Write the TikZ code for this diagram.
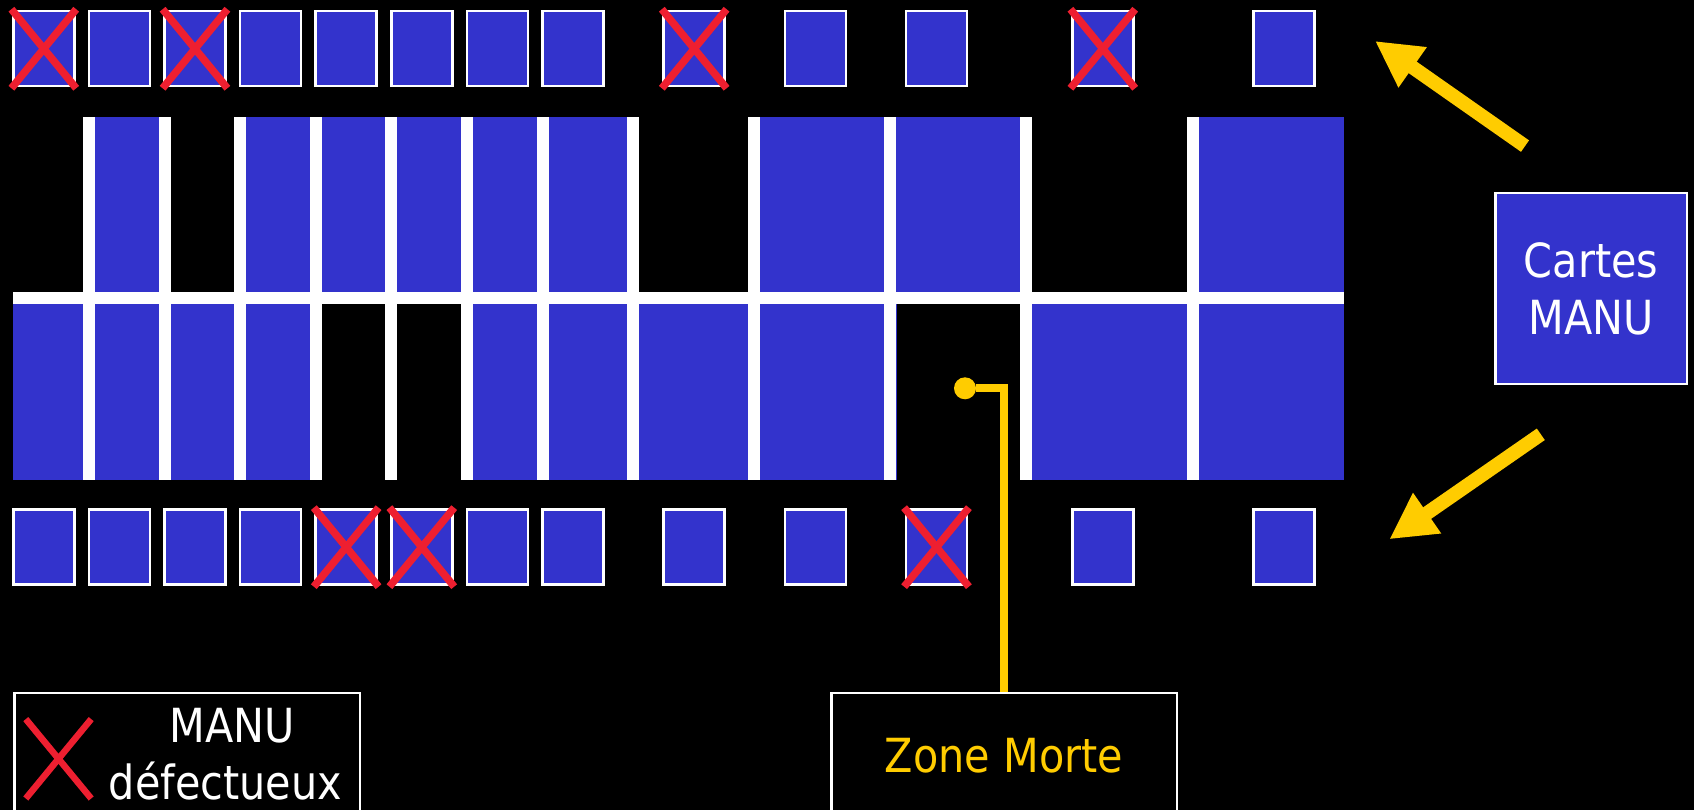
\documentclass[tikz,border=0pt]{standalone}
\usepackage{fontspec}
\setmainfont{DejaVu Sans}[FakeStretch=0.88]
\usetikzlibrary{arrows.meta}
\definecolor{cellblue}{HTML}{3333CC}
\definecolor{xred}{HTML}{EE1F30}
\definecolor{ygold}{HTML}{FFCC00}
\begin{document}
\begin{tikzpicture}[x=1pt,y=-1pt,
  cell/.style={rectangle, draw=white, line width=2.5pt, fill=cellblue, minimum width=61pt, minimum height=75pt, inner sep=0pt},
  cross/.style={draw=xred, line width=7.5pt, shorten <=-1pt, shorten >=-1pt},
  legcross/.style={draw=xred, line width=6.5pt},
  board/.style={fill=cellblue},
  bar/.style={fill=white},
  hole/.style={fill=black},
  frame/.style={rectangle, draw=white, line width=2.5pt, fill=black, inner sep=0pt},
  txt/.style={text=white, font=\fontsize{47}{57}\selectfont, inner sep=0pt},
  yarrow/.style={draw=ygold, line width=14pt, -{Triangle[length=46pt,width=46pt]}},
  yline/.style={draw=ygold, line width=8pt},
  ydot/.style={circle, fill=ygold, minimum size=22pt, inner sep=0pt}
]
\fill[black] (0,0) rectangle (1694,810);
\useasboundingbox (0,0) rectangle (1694,810);

% main board
\fill[board] (12.5,116.7) rectangle (1343.8,480);
\fill[hole] (12.5,116.7) rectangle (83,292.3);
\fill[hole] (170.5,116.7) rectangle (233.9,292.3);
\fill[hole] (639.3,116.7) rectangle (748.3,292.3);
\fill[hole] (1032.4,116.7) rectangle (1186.9,292.3);
\fill[hole] (321.9,303.7) rectangle (385.3,480);
\fill[hole] (397.3,303.7) rectangle (461.2,480);
\fill[hole] (896.6,303.7) rectangle (1020.4,480);
\fill[bar] (13.3,292.3) rectangle (1343.8,303.7);
\foreach \l in {83,158.5,234,309.8,385.3,461.2,536.6,627.2,748.3,884.1,1020.4,1186.9}
  \fill[bar] (\l,116.7) rectangle ({\l+12},480);

% small boxes
\foreach \n/\xl in {1/12.3,2/87.9,3/163.5,4/239.1,5/314.7,6/390.3,7/465.9,8/541.5,9/662.7,10/784.2,11/905,12/1071.3,13/1252.6}{
  \node[cell] (t\n) at ({\xl+31.5},48.75) {};
  \node[cell] (b\n) at ({\xl+31.5},547.15) {};
}
\foreach \c in {t1,t3,t9,t12,b5,b6,b11}{
  \draw[cross] (\c.north west) -- (\c.south east);
  \draw[cross] (\c.north east) -- (\c.south west);
}

% Cartes MANU
\node[cell, minimum width=191.5pt, minimum height=190.5pt, txt, align=center] (cartes) at (1591,288.5) {Cartes\\MANU};
\coordinate (up1) at (1525,146.1);
\coordinate (up2) at (1375,41);
\coordinate (dn1) at (1540.8,434.3);
\coordinate (dn2) at (1389.3,539.3);
\draw[yarrow] (up1) -- (up2);
\draw[yarrow] (dn1) -- (dn2);

% Zone Morte
\node[frame, minimum width=345.5pt, minimum height=200pt, anchor=north] (zm) at (1004,691.9) {};
\node[ydot] (dot) at (965,388.3) {};
\draw[yline] (dot) -| (zm.north);
\node[txt, text=ygold, anchor=base] (zmt) at (1004,772) {Zone Morte};

% legend
\node[frame, minimum width=345.5pt, minimum height=200pt, anchor=north] (leg) at (187.25,691.9) {};
\node[minimum width=65pt, minimum height=79pt, inner sep=0pt] (legx) at (58.5,758.8) {};
\draw[legcross] (legx.north west) -- (legx.south east);
\draw[legcross] (legx.north east) -- (legx.south west);
\node[txt, anchor=base] (lm) at (232,742.5) {MANU};
\node[txt, anchor=base] (ld) at (225.5,799) {défectueux};
\end{tikzpicture}
\end{document}
